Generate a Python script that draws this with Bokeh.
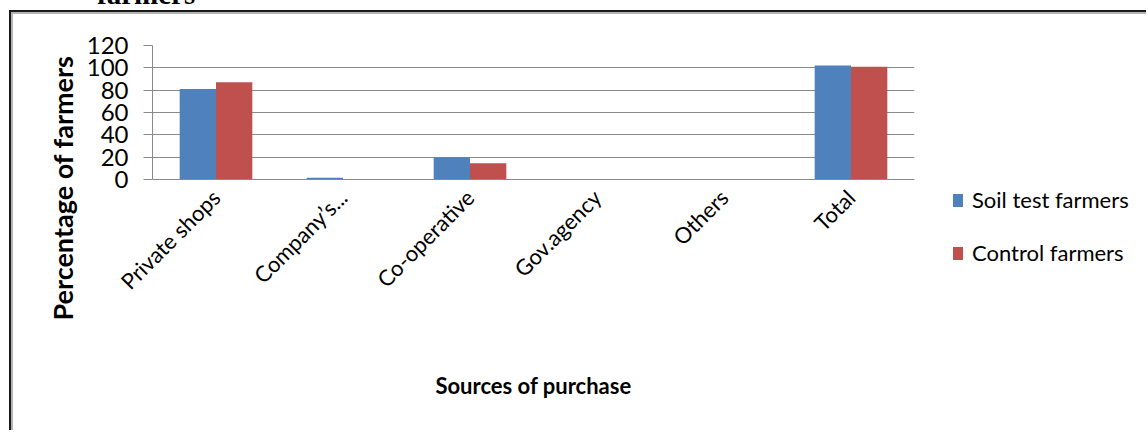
import math
from bokeh.plotting import figure
from bokeh.models import (FactorRange, Range1d, Title, Div,
                          ColumnDataSource, FixedTicker)
from bokeh.layouts import column, row
from bokeh.transform import dodge
from bokeh.embed import file_html
from bokeh.resources import INLINE

# ---------------- data ----------------
categories = ["Private shops", "Company\u2019s...", "Co-operative", "Gov.agency", "Others", "Total"]
soil_test = [81, 1.5, 20, 0, 0, 102]
control = [87, 0, 14.5, 0, 0, 101]
y_ticks = [0, 20, 40, 60, 80, 100, 120]
series_names = ["Soil test farmers", "Control farmers"]
colors = ["#4F81BD", "#C0504D"]

source = ColumnDataSource(data=dict(cat=categories, soil=soil_test, ctrl=control))

FONT = "Lato"
GRID = "#8a8a8a"
DARK = "#1a1a1a"
LIGHT = "#b4b4b4"

# ---------------- main chart ----------------
p = figure(x_range=FactorRange(*categories, range_padding=0),
           y_range=Range1d(0, 120),
           width=924, height=420,
           output_backend="svg", toolbar_location=None,
           min_border_left=141, min_border_right=21,
           min_border_top=33, min_border_bottom=253)

bw = 0.286
r1 = p.vbar(x=dodge("cat", -bw / 2, range=p.x_range), top="soil", width=bw,
            source=source, fill_color=colors[0], line_color=None)
r2 = p.vbar(x=dodge("cat", bw / 2, range=p.x_range), top="ctrl", width=bw,
            source=source, fill_color=colors[1], line_color=None)

p.outline_line_color = None
p.background_fill_color = "white"
p.border_fill_alpha = 0

p.xgrid.visible = False
p.ygrid.grid_line_color = GRID
p.ygrid.grid_line_width = 1
p.ygrid.ticker = FixedTicker(ticks=y_ticks)

p.yaxis.ticker = FixedTicker(ticks=y_ticks)
p.yaxis.axis_line_color = GRID
p.yaxis.major_tick_line_color = GRID
p.yaxis.major_tick_out = 9
p.yaxis.major_tick_in = 0
p.yaxis.minor_tick_line_color = None
p.yaxis.major_label_standoff = 15
p.yaxis.major_label_text_font = FONT
p.yaxis.major_label_text_font_size = "24px"
p.yaxis.major_label_text_color = "#000000"

p.xaxis.axis_line_color = GRID
p.xaxis.major_tick_line_color = None
p.xaxis.minor_tick_line_color = None
p.xaxis.major_label_orientation = math.pi / 4
p.xaxis.major_label_standoff = 8
p.xaxis.major_label_text_font = FONT
p.xaxis.major_label_text_font_size = "22px"
p.xaxis.major_label_text_color = "#000000"
p.xaxis.axis_label = "Sources of purchase"
p.xaxis.axis_label_text_font = FONT
p.xaxis.axis_label_text_font_style = "bold"
p.xaxis.axis_label_text_font_size = "22px"
p.xaxis.axis_label_text_color = "#000000"
p.xaxis.axis_label_standoff = 65

ytitle = Title(text="Percentage of farmers", align="left", offset=-141,
               standoff=10, text_font=FONT, text_font_style="bold",
               text_font_size="27px", text_color="#000000")
p.add_layout(ytitle, "left")

p.margin = (1, 0, 0, 9)
p.styles = {"border-top": "2px solid " + DARK, "border-left": "2px solid " + DARK,
            "box-shadow": "inset 2px 2px 0 0 " + LIGHT}

# ---------------- legend (beside the chart) ----------------
rows_html = []
for i, (name, col) in enumerate(zip(series_names, colors)):
    gap = "0" if i == 0 else "27px"
    rows_html.append(
        '<div style="display:flex;align-items:center;height:26px;margin-top:%s">'
        '<span style="display:inline-block;width:10px;height:13px;background:%s;'
        'margin-right:9px"></span>%s</div>' % (gap, col, name))
legend_div = Div(text="".join(rows_html), width=193, height=80, margin=(173, 0, 0, 20),
                 styles={"font-family": FONT, "font-size": "22px", "color": "#000",
                         "line-height": "26px", "white-space": "nowrap"})

# strip on the right carrying the top frame line
right_col = column(Div(text="", width=213, height=2, margin=(1, 0, 0, 0),
                       styles={"background-color": DARK}),
                   Div(text="", width=213, height=2, margin=(0, 0, 0, 0),
                       styles={"background-color": LIGHT}),
                   legend_div, spacing=0)

# ---------------- cut-off caption above the chart ----------------
caption = Div(text="farmers", width=300, height=30, margin=(-21, 0, 0, 97),
              styles={"font-family": "Liberation Serif", "font-weight": "bold",
                      "font-size": "29px", "line-height": "30px", "color": "#000"})

layout = column(caption, row(p, right_col, spacing=0), spacing=0)

open("out.html", "w").write(file_html(layout, INLINE))
